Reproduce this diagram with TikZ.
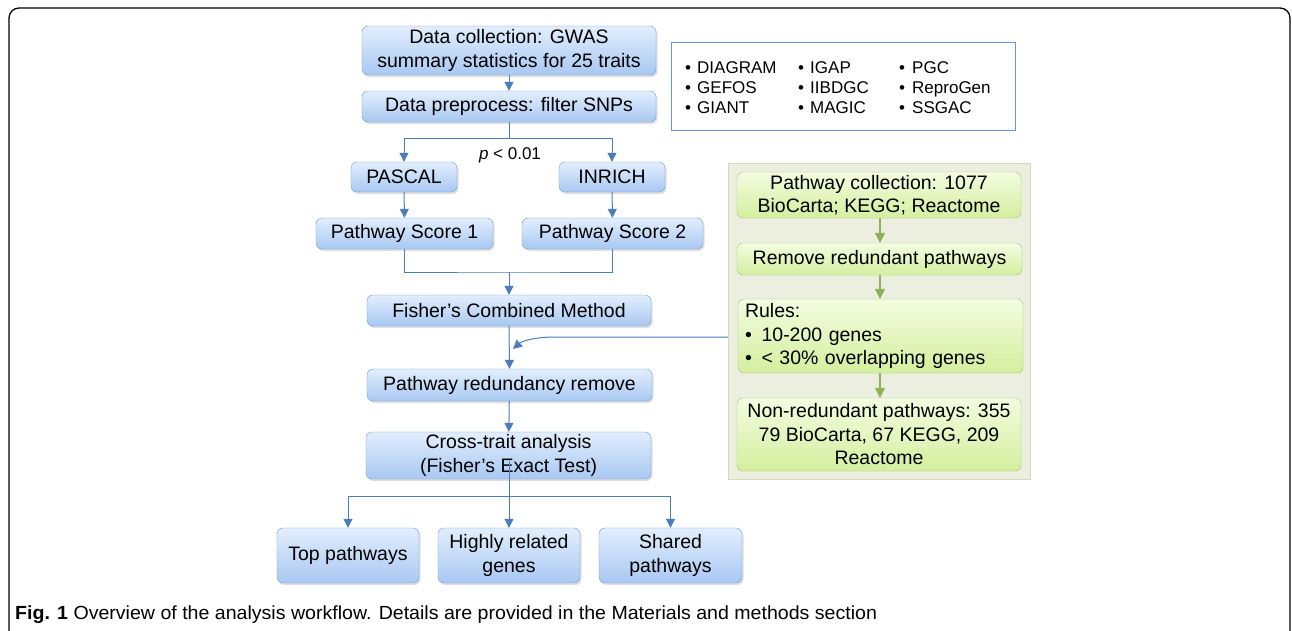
\documentclass[tikz,border=0pt]{standalone}
\usepackage{fontspec}
\setmainfont{Liberation Sans}
\usetikzlibrary{arrows.meta,shadows}
\definecolor{bline}{HTML}{4A7EBB}
\definecolor{bborder}{HTML}{6F9BD4}
\definecolor{btop}{HTML}{E2EEFD}
\definecolor{bbot}{HTML}{A8C8F2}
\definecolor{gborder}{HTML}{9DC36A}
\definecolor{gtop}{HTML}{F4FCE0}
\definecolor{gbot}{HTML}{D3EF9E}
\definecolor{gline}{HTML}{8DB255}
\definecolor{panelfill}{HTML}{ECEEE0}
\definecolor{panelborder}{HTML}{D2D9BE}
\definecolor{dbborder}{HTML}{6A95D2}
\tikzset{
  x=1pt, y=-1pt,
  boxfont/.style={font=\fontsize{19.5}{23.5}\selectfont},
  bbox/.style={boxfont, rounded corners=6pt, draw=bborder, top color=btop, bottom color=bbot,
     drop shadow={shadow xshift=1.5pt, shadow yshift=-2pt, opacity=0.25},
     align=center, inner sep=0pt},
  gbox/.style={boxfont, rounded corners=6pt, draw=gborder, top color=gtop, bottom color=gbot,
     align=center, inner sep=0pt},
  bl/.style={draw=bline, line width=1pt},
  blarrow/.style={bl, -{Triangle[width=9pt,length=9pt]}},
  glarrow/.style={draw=gline, line width=1.2pt, -{Triangle[width=10pt,length=10pt]}},
  listfont/.style={font=\fontsize{17}{20}\selectfont, anchor=base west, inner sep=0pt},
}
\begin{document}
\begin{tikzpicture}
\path[use as bounding box] (0,0) rectangle (1292,630);
\clip (0,0) rectangle (1292,630);
\fill[white] (0,0) rectangle (1292,630);
\draw[line width=1.3pt, rounded corners=10pt] (9,8) rectangle (1290,650);

% left column
\node[bbox, minimum width=294pt, minimum height=49pt] (dc) at (509,50.5) {Data collection: GWAS\\summary statistics for 25 traits};
\node[bbox, minimum width=294pt, minimum height=31pt] (pre) at (509,106.5) {Data preprocess: filter SNPs};
\node[bbox, minimum width=106pt, minimum height=30pt] (pascal) at (404,177) {PASCAL};
\node[bbox, minimum width=106pt, minimum height=30pt] (inrich) at (612,177) {INRICH};
\node[bbox, minimum width=177pt, minimum height=31pt] (ps1) at (404.5,233.5) {Pathway Score 1};
\node[bbox, minimum width=181pt, minimum height=31pt] (ps2) at (612.5,233.5) {Pathway Score 2};
\node[bbox, minimum width=284pt, minimum height=31pt] (fcm) at (509,310.5) {Fisher’s Combined Method};
\node[bbox, minimum width=285pt, minimum height=32pt] (prr) at (509.5,385) {Pathway redundancy remove};
\node[bbox, minimum width=285pt, minimum height=47pt] (cta) at (508.5,455.5) {Cross-trait analysis\\(Fisher's Exact Test)};
\node[bbox, minimum width=142pt, minimum height=55pt] (top) at (348,555.5) {Top pathways};
\node[bbox, minimum width=142pt, minimum height=55pt] (hrg) at (509,555.5) {Highly related\\genes};
\node[bbox, minimum width=143pt, minimum height=55pt] (shp) at (670.5,555.5) {Shared\\pathways};

\node[font=\fontsize{17}{20}\selectfont, inner sep=0pt] (pval) at (510,155) {\textit{p} < 0.01};

% database list
\node[draw=dbborder, line width=0.9pt, minimum width=344pt, minimum height=88pt, inner sep=0pt] (db) at (843,86) {};
\foreach \bx/\tx/\a/\b/\c in {685/697/DIAGRAM/GEFOS/GIANT, 798/810/IGAP/IIBDGC/MAGIC, 899/912/PGC/ReproGen/SSGAC}{
  \node[listfont] at (\bx,73) {•};
  \node[listfont] at (\tx,73) {\a};
  \node[listfont] at (\bx,93) {•};
  \node[listfont] at (\tx,93) {\b};
  \node[listfont] at (\bx,113) {•};
  \node[listfont] at (\tx,113) {\c};
}

% green panel
\node[fill=panelfill, draw=panelborder, line width=0.8pt, minimum width=302pt, minimum height=316pt, inner sep=0pt] (panel) at (879,321) {};
\node[gbox, minimum width=284pt, minimum height=46pt] (pc) at (879,195) {Pathway collection: 1077\\BioCarta; KEGG; Reactome};
\node[gbox, minimum width=285pt, minimum height=32pt] (rr) at (879.5,259) {Remove redundant pathways};
\node[gbox, minimum width=285pt, minimum height=74pt, align=left, text width=271pt] (rules) at (880.5,336) {Rules:\\•\, 10-200 genes\\•\, < 30\% overlapping genes};
\node[gbox, minimum width=284pt, minimum height=73pt] (nr) at (879,434.5) {Non-redundant pathways: 355\\79 BioCarta, 67 KEGG, 209\\Reactome};

\draw[glarrow] (pc.south -| 880,0) -- (rr.north -| 880,0);
\draw[glarrow] (rr.south -| 880,0) -- (rules.north -| 880,0);
\draw[glarrow] (rules.south -| 880,0) -- (nr.north -| 880,0);

% connectors
\draw[blarrow] (dc) -- (pre);
\coordinate (split1) at (509,138);
\draw[bl] (pre.south) -- (split1);
\draw[bl] (pascal.north |- split1) -- (inrich.north |- split1);
\draw[blarrow] (pascal.north |- split1) -- (pascal.north);
\draw[blarrow] (inrich.north |- split1) -- (inrich.north);
\draw[blarrow] (pascal) -- (ps1);
\draw[blarrow] (inrich) -- (ps2);
\coordinate (join) at (509,272);
\draw[bl] (ps1.south) |- (join) -| (ps2.south);
\draw[blarrow] (join) -- (fcm.north);
\draw[blarrow] (fcm.south) -- (prr.north);
\coordinate (rulesout) at (728,337);
\coordinate (merge) at (513,349);
\draw[blarrow] (rulesout) -- (555,337) .. controls (535,337) and (522,341) .. (merge);
\draw[blarrow] (prr) -- (cta);
\coordinate (ctaout) at (509,461);
\coordinate (split2) at (509,496);
\draw[bl] (ctaout) -- (split2);
\draw[bl] (top.north |- split2) -- (shp.north |- split2);
\draw[blarrow] (top.north |- split2) -- (top.north);
\draw[blarrow] (split2) -- (hrg.north);
\draw[blarrow] (shp.north |- split2) -- (shp.north);

% caption
\node[anchor=base west, inner sep=0pt, font=\fontsize{19}{22}\selectfont] (cap) at (15,619)
  {\scalebox{1.03}[1]{\textbf{Fig. 1} Overview of the analysis workflow. Details are provided in the Materials and methods section}};
\end{tikzpicture}
\end{document}
